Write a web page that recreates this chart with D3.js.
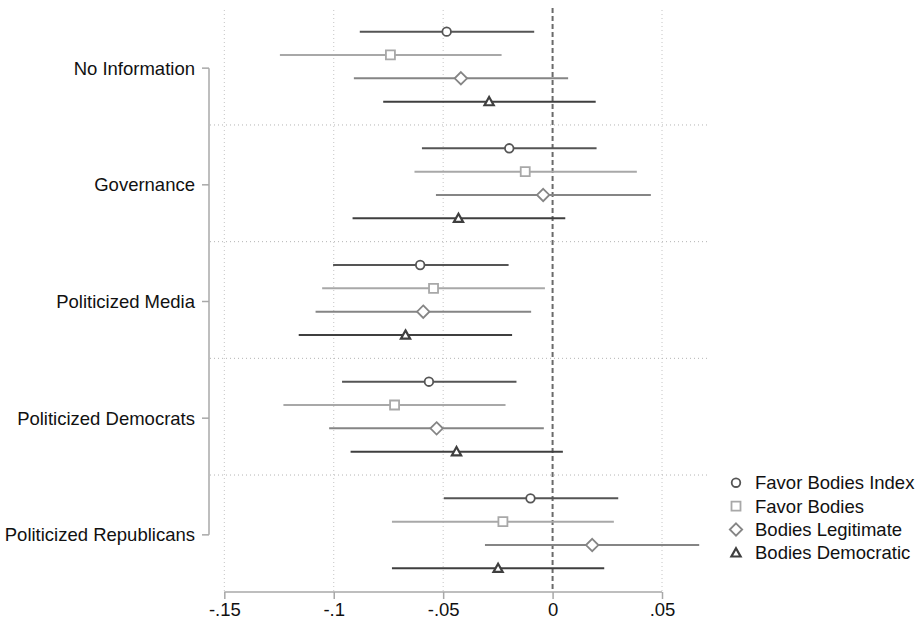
<!DOCTYPE html>
<html>
<head>
<meta charset="utf-8">
<script src="https://cdn.jsdelivr.net/npm/d3@7"></script>
<style>
  body { margin: 0; background: #fff; }
  text { font-family: "Liberation Sans", Arial, Helvetica, sans-serif; }
</style>
</head>
<body>
<div id="chart"></div>
<script>
// sizes
var chart_width = 921;
var chart_height = 627;
var font_size = '18.5px';

// data: estimates with 95% CI, one array per series (order = groups)
var groups = ['No Information', 'Governance', 'Politicized Media', 'Politicized Democrats', 'Politicized Republicans'];
var series = ['Favor Bodies Index', 'Favor Bodies', 'Bodies Legitimate', 'Bodies Democratic'];

var favorIndex_est = [-0.0484, -0.0198, -0.0605, -0.0565, -0.0101];
var favorIndex_lo  = [-0.0881, -0.0597, -0.1003, -0.0962, -0.0497];
var favorIndex_hi  = [-0.0084,  0.0201, -0.0201, -0.0165,  0.0300];

var favor_est = [-0.0741, -0.0125, -0.0544, -0.0722, -0.0227];
var favor_lo  = [-0.1246, -0.0631, -0.1053, -0.1230, -0.0734];
var favor_hi  = [-0.0233,  0.0385, -0.0035, -0.0215,  0.0280];

var legit_est = [-0.0419, -0.0043, -0.0591, -0.0530,  0.0181];
var legit_lo  = [-0.0908, -0.0533, -0.1083, -0.1021, -0.0309];
var legit_hi  = [ 0.0071,  0.0449, -0.0098, -0.0040,  0.0670];

var democ_est = [-0.0290, -0.0430, -0.0672, -0.0439, -0.0249];
var democ_lo  = [-0.0774, -0.0914, -0.1160, -0.0923, -0.0734];
var democ_hi  = [ 0.0197,  0.0058, -0.0185,  0.0047,  0.0236];

var x_ticks = [-0.15, -0.1, -0.05, 0, 0.05];
var x_tick_labels = ['-.15', '-.1', '-.05', '0', '.05'];

// styles per series
var colors = ['#555555', '#a8a8a8', '#858585', '#3f3f3f'];
var shapes = ['circle', 'square', 'diamond', 'triangle'];

var all_est = [favorIndex_est, favor_est, legit_est, democ_est];
var all_lo = [favorIndex_lo, favor_lo, legit_lo, democ_lo];
var all_hi = [favorIndex_hi, favor_hi, legit_hi, democ_hi];

var rows = [];
series.forEach(function(s, si){
    groups.forEach(function(g, gi){
        rows.push({series: si, group: g, est: all_est[si][gi], lo: all_lo[si][gi], hi: all_hi[si][gi]});
    });
});

// scales
var x = d3.scaleLinear().domain([-0.15654, 0.07193]).range([210, 710]);
var y = d3.scaleBand().domain(groups).range([8.3, 591.7]).paddingInner(0).paddingOuter(0);
var bw = y.bandwidth();
function yc(g){ return y(g) + bw / 2; }
function yPos(d){ return yc(d.group) + (d.series - 1.5) * bw / 5; }

function markerPath(type){
    if (type === 'square') return 'M-4.5,-4.5H4.5V4.5H-4.5Z';
    if (type === 'diamond') return 'M0,-6.2L6.2,0L0,6.2L-6.2,0Z';
    if (type === 'triangle') return 'M0,-4.6L4.6,3.6L-4.6,3.6Z';
}

var svg = d3.select('#chart')
            .append('svg')
            .attr('width', chart_width)
            .attr('height', chart_height);

// vertical dotted grid
svg.selectAll('.vgrid')
   .data(x_ticks.filter(function(t){ return t !== 0; }))
   .enter()
   .append('line')
   .attr('x1', function(d){ return x(d); })
   .attr('x2', function(d){ return x(d); })
   .attr('y1', 10)
   .attr('y2', 592)
   .attr('stroke', '#c4c4c4')
   .attr('stroke-width', 1)
   .attr('stroke-dasharray', '1,3');

// horizontal separators between groups
svg.selectAll('.hgrid')
   .data(groups.slice(1))
   .enter()
   .append('line')
   .attr('x1', 210)
   .attr('x2', 710)
   .attr('y1', function(d){ return y(d); })
   .attr('y2', function(d){ return y(d); })
   .attr('stroke', '#b4b4b4')
   .attr('stroke-width', 1)
   .attr('stroke-dasharray', '1,3');

// zero line
svg.append('line')
   .attr('x1', x(0)).attr('x2', x(0))
   .attr('y1', 8).attr('y2', 592)
   .attr('stroke', '#6a6a6a')
   .attr('stroke-width', 2)
   .attr('stroke-dasharray', '5,3');

// x axis
var xAxis = d3.axisBottom(x)
              .tickValues(x_ticks)
              .tickFormat(function(d, i){ return x_tick_labels[i]; })
              .tickSize(7)
              .tickSizeOuter(0)
              .tickPadding(4);
var gx = svg.append('g')
            .attr('transform', 'translate(0,592)')
            .call(xAxis);
gx.select('.domain').attr('d', 'M' + x(-0.15) + ',0H' + x(0.05)).attr('stroke', '#a8a8a8').attr('stroke-width', 1.5);
gx.selectAll('.tick line').attr('stroke', '#a8a8a8').attr('stroke-width', 1.5);
gx.selectAll('.tick text').attr('fill', '#111').style('font-size', font_size).style('font-family', '"Liberation Sans", Arial, sans-serif');

// y axis
var gy = svg.append('g').attr('transform', 'translate(209,0)');
gy.append('line')
  .attr('x1', 0).attr('x2', 0)
  .attr('y1', yc(groups[0]) + 1.5).attr('y2', yc(groups[groups.length - 1]) + 1.5)
  .attr('stroke', '#a8a8a8').attr('stroke-width', 1.5);
gy.selectAll('.ytick')
  .data(groups)
  .enter()
  .append('line')
  .attr('x1', -7).attr('x2', 0)
  .attr('y1', function(d){ return yc(d) + 1.5; })
  .attr('y2', function(d){ return yc(d) + 1.5; })
  .attr('stroke', '#a8a8a8').attr('stroke-width', 1.5);
gy.selectAll('.ylab')
  .data(groups)
  .enter()
  .append('text')
  .attr('x', -14)
  .attr('y', function(d){ return yc(d) + 1.5; })
  .attr('dy', '0.35em')
  .attr('text-anchor', 'end')
  .attr('fill', '#111')
  .style('font-size', font_size)
  .text(function(d){ return d; });

// CI lines
svg.selectAll('.ci')
   .data(rows)
   .enter()
   .append('line')
   .attr('x1', function(d){ return x(d.lo); })
   .attr('x2', function(d){ return x(d.hi); })
   .attr('y1', yPos)
   .attr('y2', yPos)
   .attr('stroke', function(d){ return colors[d.series]; })
   .attr('stroke-width', 2);

// markers
function drawMarker(sel){
    sel.each(function(d){
        var g = d3.select(this);
        var t = shapes[d.series];
        if (t === 'circle') {
            g.append('circle').attr('r', 4.3);
        } else {
            g.append('path').attr('d', markerPath(t));
        }
        g.selectAll('circle, path')
         .attr('fill', '#fff')
         .attr('stroke', colors[d.series])
         .attr('stroke-width', d.series === 3 ? 2.2 : 1.8);
    });
}

svg.selectAll('.pt')
   .data(rows)
   .enter()
   .append('g')
   .attr('transform', function(d){ return 'translate(' + x(d.est) + ',' + yPos(d) + ')'; })
   .call(drawMarker);

// legend
var legend = svg.selectAll('.legend')
                .data(series)
                .enter()
                .append('g')
                .attr('transform', function(d, i){ return 'translate(736,' + (482.7 + i * 23.4) + ')'; });
legend.each(function(d, i){
    d3.select(this).append('g').datum({series: i}).call(drawMarker);
});
legend.append('text')
      .attr('x', 19)
      .attr('dy', '0.35em')
      .attr('fill', '#111')
      .style('font-size', font_size)
      .text(function(d){ return d; });
</script>
</body>
</html>
